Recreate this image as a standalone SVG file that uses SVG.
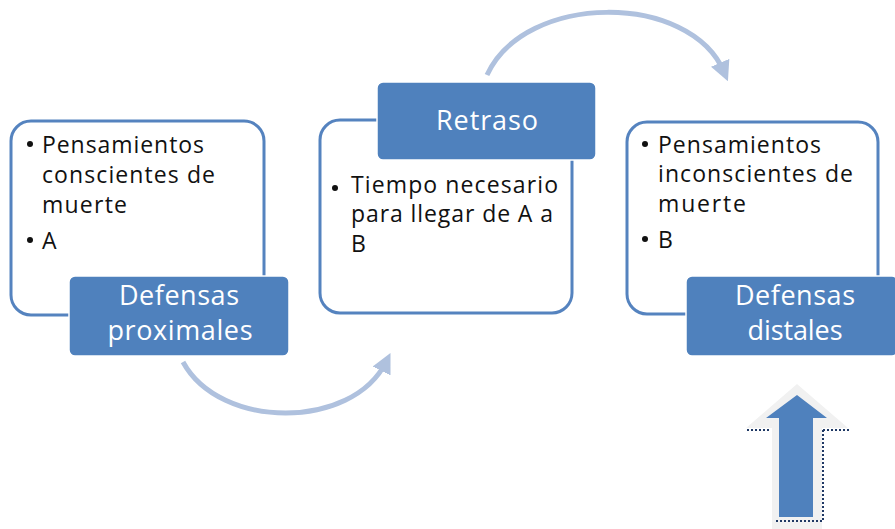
<svg xmlns="http://www.w3.org/2000/svg" width="895" height="529" viewBox="0 0 895 529">
<style>
.box{fill:#ffffff;stroke:#5583BF;stroke-width:3}
.lab{fill:#4F81BD;stroke:#ffffff;stroke-width:1.5}
.t{font-family:"Open Sans","Liberation Sans",sans-serif;font-size:23px;fill:#111111}
.l{font-family:"Open Sans","Liberation Sans",sans-serif;font-size:27px;fill:#ffffff;text-anchor:middle}
.conn{fill:none;stroke:#AFC1DE;stroke-width:5}
.dot{fill:none;stroke:#1F3864;stroke-width:2;stroke-dasharray:2 2}
</style>
<defs>
<marker id="ah" markerWidth="4" markerHeight="4" refX="2" refY="2" orient="auto" markerUnits="strokeWidth">
<path d="M0,0 L4,2 L0,4 Z" fill="#AFC1DE"/>
</marker>
</defs>
<g id="connectors">
<path class="conn" d="M183 362 C 220 430, 352 430, 386 362" marker-end="url(#ah)"/>
<path class="conn" d="M487 75 C 525 -8, 690 -8, 724 72" marker-end="url(#ah)"/>
</g>
<g id="node1">
<rect class="box" x="11" y="121" width="253" height="194" rx="20"/>
<circle cx="30" cy="144" r="3" fill="#111"/>
<text class="t" x="42" y="153" textLength="162">Pensamientos</text>
<text class="t" x="42" y="183" textLength="173">conscientes de</text>
<text class="t" x="42" y="213" textLength="85">muerte</text>
<circle cx="30" cy="240" r="3" fill="#111"/>
<text class="t" x="42" y="249">A</text>
<rect class="lab" x="69" y="276" width="220" height="80" rx="6"/>
<text class="l" x="179" y="305" textLength="120">Defensas</text>
<text class="l" x="180" y="340" textLength="145">proximales</text>
</g>
<g id="node2">
<rect class="box" x="320" y="120" width="252" height="193" rx="20"/>
<rect class="lab" x="377" y="82" width="219" height="78" rx="6"/>
<text class="l" x="487" y="130" textLength="102">Retraso</text>
<circle cx="335" cy="188" r="3" fill="#111"/>
<text class="t" x="351" y="193" textLength="207">Tiempo necesario</text>
<text class="t" x="351" y="222" textLength="202">para llegar de A a</text>
<text class="t" x="351" y="252">B</text>
</g>
<g id="node3">
<rect class="box" x="627" y="122" width="251" height="192" rx="20"/>
<circle cx="645" cy="144" r="3" fill="#111"/>
<text class="t" x="658" y="153" textLength="163">Pensamientos</text>
<text class="t" x="658" y="182" textLength="195">inconscientes de</text>
<text class="t" x="658" y="212" textLength="88">muerte</text>
<circle cx="645" cy="239" r="3" fill="#111"/>
<text class="t" x="658" y="248">B</text>
<rect class="lab" x="686" y="276" width="212" height="80" rx="6"/>
<text class="l" x="795" y="305" textLength="120">Defensas</text>
<text class="l" x="795" y="340" textLength="95">distales</text>
</g>
<g id="uparrow">
<path d="M797 384 L848 428 L822 428 L822 529 L772 529 L772 428 L746 428 Z" fill="#F1F1F1"/>
<path d="M797 395 L827 418 L813 418 L813 517 L779 517 L779 418 L766 418 Z" fill="#4F81BD"/>
<path class="dot" d="M747 430 H771"/>
<path class="dot" d="M823 430 H850"/>
<path class="dot" d="M823 430 V521 H775"/>
</g>
</svg>
